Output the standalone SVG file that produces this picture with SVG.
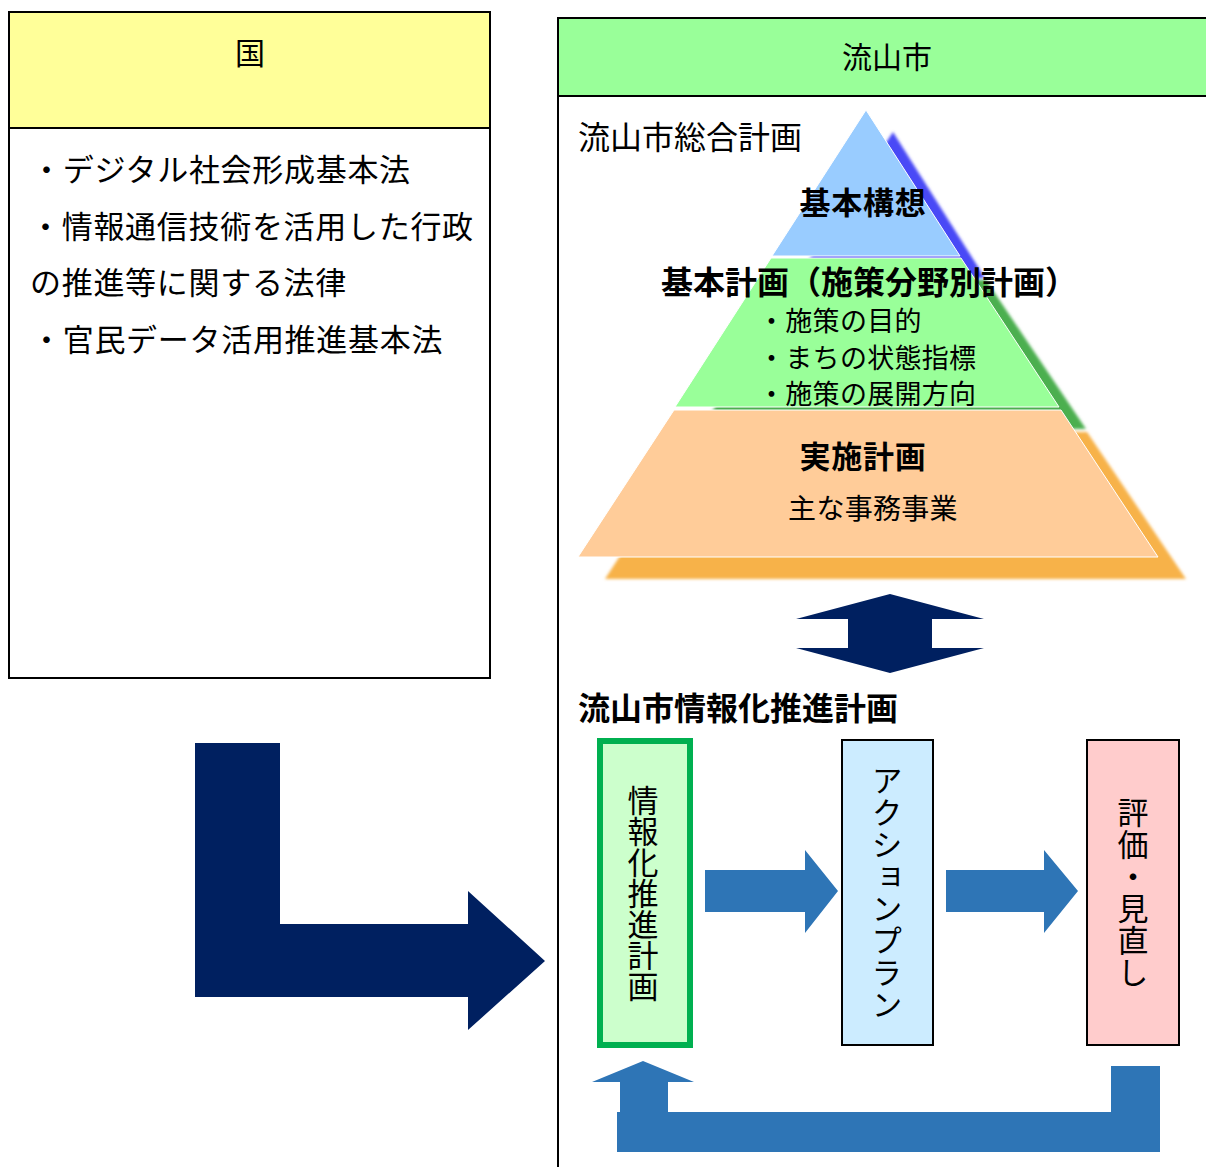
<svg xmlns="http://www.w3.org/2000/svg" width="1206" height="1167" viewBox="0 0 1206 1167">
<style>
text{font-family:"Noto Sans CJK JP","Noto Sans CJK SC",sans-serif;fill:#000}
.t30{font-size:30px}
.t31{font-size:31px;letter-spacing:0.7px}
.t32{font-size:32px}
.b{font-weight:bold}
.t27{font-size:27px;letter-spacing:0.3px}
.box{stroke:#000;stroke-width:2}
.vt{writing-mode:vertical-rl;font-size:31px;text-anchor:middle}
.navy{fill:#002060}
.blue{fill:#2E75B6}
</style>
<defs>
<filter id="soft" x="-5%" y="-5%" width="110%" height="110%"><feGaussianBlur stdDeviation="1.5"/></filter>
</defs>

<g id="kuni">
<rect x="9" y="12" width="481" height="666" fill="#fff" class="box"/>
<rect x="9" y="12" width="481" height="116" fill="#FFFF99" class="box"/>
<text x="250" y="64" class="t30" text-anchor="middle">国</text>
<text x="31" y="181" class="t31">・デジタル社会形成基本法</text>
<text x="30" y="238" class="t31">・情報通信技術を活用した行政</text>
<text x="30" y="294" class="t31">の推進等に関する法律</text>
<text x="31" y="351" class="t31">・官民データ活用推進基本法</text>
</g>

<g id="nagareyama">
<path d="M558 1167 V18 H1206" fill="none" stroke="#000" stroke-width="2"/>
<rect x="558" y="18" width="650" height="78" fill="#99FF99" class="box"/>
<text x="887" y="68" class="t30" text-anchor="middle">流山市</text>
<text x="578" y="149" class="t32">流山市総合計画</text>
</g>

<g id="pyramid">
<g filter="url(#soft)">
<polygon points="893,132 985,278 797,278" fill="#4A4AF6"/>
<polygon points="796,280 986,280 1086,429 701,429" fill="#4CAF50"/>
<polygon points="700,432 1087,432 1186,579 605,579" fill="#F7B24A"/>
</g>
<polygon points="866,110 960,256 772,256" fill="#99CCFF" stroke="#fff" stroke-width="1"/>
<polygon points="771,258 961,258 1059,407 675,407" fill="#99FF99" stroke="#fff" stroke-width="1"/>
<polygon points="674,410 1061,410 1158,557 578,557" fill="#FFCC99" stroke="#fff" stroke-width="1"/>
<text x="863" y="214" class="t31 b" text-anchor="middle">基本構想</text>
<text x="869" y="294" class="t32 b" text-anchor="middle">基本計画（施策分野別計画）</text>
<text x="758" y="331" class="t27">・施策の目的</text>
<text x="758" y="368" class="t27">・まちの状態指標</text>
<text x="758" y="404" class="t27">・施策の展開方向</text>
<text x="863" y="468" class="t31 b" text-anchor="middle">実施計画</text>
<text x="873" y="519" class="t27" style="font-size:28px" text-anchor="middle">主な事務事業</text>
</g>

<text id="plan-title" x="578" y="720" class="t32 b">流山市情報化推進計画</text>

<g id="node-joho">
<rect x="600" y="741" width="90" height="304" fill="#CCFFCC" stroke="#00B050" stroke-width="6"/>
<text x="643" y="893" class="vt">情報化推進計画</text>
</g>
<g id="node-action">
<rect x="842" y="740" width="91" height="305" fill="#CCECFF" class="box"/>
<text x="887" y="893" class="vt" letter-spacing="1">アクションプラン</text>
</g>
<g id="node-hyoka">
<rect x="1087" y="740" width="92" height="305" fill="#FFCCCC" class="box"/>
<text x="1133" y="893" class="vt" letter-spacing="1">評価・見直し</text>
</g>

<g id="connectors">
<polygon class="navy" points="195,743 280,743 280,924 468,924 468,891 545,961 468,1030 468,997 195,997"/>
<polygon class="navy" points="890,594 984,619 932,619 932,648 984,648 890,673 796,648 848,648 848,619 796,619"/>
<polygon class="blue" points="705,870 805,870 805,850 838,891 805,933 805,912 705,912"/>
<polygon class="blue" points="946,870 1044,870 1044,850 1078,891 1044,933 1044,912 946,912"/>
<polygon class="blue" points="1111,1066 1160,1066 1160,1152 617,1152 617,1112 620,1112 620,1082 592,1082 643,1061 694,1082 668,1082 668,1112 1111,1112"/>
</g>
</svg>
